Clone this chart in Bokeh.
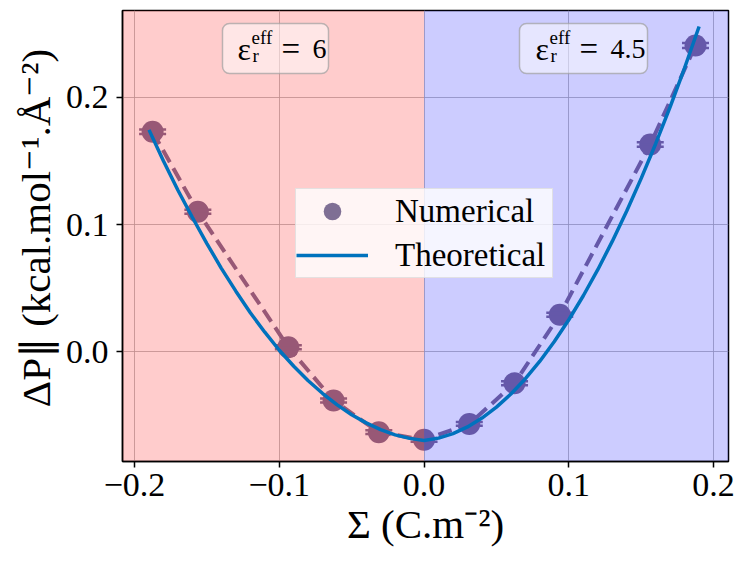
from bokeh.plotting import figure
from bokeh.models import FixedTicker, Legend, LegendItem, BoxAnnotation, Label
from bokeh.embed import file_html
from bokeh.resources import INLINE

# ---- data ----
sigma_num = [-0.1875, -0.15625, -0.09375, -0.0625, -0.03125, 0.0,
             0.03125, 0.0625, 0.09375, 0.15625, 0.1875]
dp_num = [0.173, 0.110, 0.0034, -0.0386, -0.0635, -0.0695,
          -0.0570, -0.0250, 0.0289, 0.163, 0.241]
dp_err = [0.0018, 0.0016, 0.0016, 0.0016, 0.0015, 0.0015,
          0.0015, 0.0016, 0.0016, 0.0018, 0.0020]

sigma_th = [-0.19, -0.18, -0.17, -0.16, -0.15, -0.14, -0.13, -0.12, -0.11, -0.10,
            -0.09, -0.08, -0.07, -0.06, -0.05, -0.04, -0.03, -0.02, -0.01, 0.0,
            0.01, 0.02, 0.03, 0.04, 0.05, 0.06, 0.07, 0.08, 0.09, 0.10,
            0.11, 0.12, 0.13, 0.14, 0.15, 0.16, 0.17, 0.18, 0.19]
dp_th = [0.1745, 0.1500, 0.1270, 0.1055, 0.0850, 0.0655, 0.0475, 0.0305, 0.0152, 0.0010,
         -0.0116, -0.0230, -0.0331, -0.0420, -0.0498, -0.0562, -0.0615, -0.0656, -0.0684, -0.0700,
         -0.0682, -0.0646, -0.0594, -0.0524, -0.0438, -0.0334, -0.0214, -0.0076, 0.0079, 0.0250,
         0.0439, 0.0644, 0.0867, 0.1106, 0.1363, 0.1636, 0.1927, 0.2234, 0.2559]

x_ticks = [-0.2, -0.1, 0.0, 0.1, 0.2]
x_tick_labels = ["\u22120.2", "\u22120.1", "0.0", "0.1", "0.2"]
y_ticks = [0.0, 0.1, 0.2]
y_tick_labels = ["0.0", "0.1", "0.2"]

x_lo, x_hi = -0.2083, 0.2103
y_lo, y_hi = -0.0866, 0.2685

FONT = "Liberation Serif"
NUM_COLOR = "#7f6f94"
TH_COLOR = "#0072BD"

BL, BR, BT, BB = 122, 12, 10, 97
W, H = 740, 558
FW, FH = W - BL - BR, H - BT - BB

p = figure(width=W, height=H, x_range=(x_lo, x_hi), y_range=(y_lo, y_hi),
           output_backend="svg", toolbar_location=None,
           min_border_left=BL, min_border_right=BR, min_border_top=BT, min_border_bottom=BB)

p.background_fill_color = "white"
p.outline_line_color = "black"
p.outline_line_width = 1.5

for ax in (p.xaxis, p.yaxis):
    ax.axis_line_width = 1.5
    ax.axis_line_color = "black"
    ax.major_tick_out = 6
    ax.major_tick_in = 0
    ax.major_tick_line_width = 1.5
    ax.major_tick_line_color = "black"
    ax.minor_tick_line_color = None
    ax.major_label_text_font = FONT
    ax.major_label_text_font_size = "34px"
    ax.major_label_text_color = "black"
    ax.axis_label_text_font = FONT
    ax.axis_label_text_font_size = "41px"
    ax.axis_label_text_font_style = "normal"
    ax.axis_label_text_color = "black"

p.xaxis.ticker = FixedTicker(ticks=x_ticks)
p.xaxis.major_label_overrides = dict(zip(x_ticks, x_tick_labels))
p.yaxis.ticker = FixedTicker(ticks=y_ticks)
p.yaxis.major_label_overrides = dict(zip(y_ticks, y_tick_labels))
p.xaxis.axis_label = "\u03a3 (C.m\u207b\u00b2)"
p.yaxis.axis_label = "\u0394P\u2225 (kcal.mol\u207b\u00b9.\u00c5\u207b\u00b2)"
p.xaxis.major_label_standoff = 6
p.yaxis.major_label_standoff = 8
p.xaxis.axis_label_standoff = 2
p.yaxis.axis_label_standoff = 4

p.xgrid.grid_line_color = "#b0b0b0"
p.ygrid.grid_line_color = "#b0b0b0"
p.xgrid.grid_line_alpha = 0.8
p.ygrid.grid_line_alpha = 0.8

# numerical data (dashed line, error caps, markers)
p.line(sigma_num, dp_num, line_color=NUM_COLOR, line_width=4, line_dash="14 7")
err_hi = [v + e for v, e in zip(dp_num, dp_err)]
err_lo = [v - e for v, e in zip(dp_num, dp_err)]
p.segment(x0=sigma_num, y0=err_lo, x1=sigma_num, y1=err_hi, line_color=NUM_COLOR, line_width=2.5)
r_num = p.scatter(sigma_num, dp_num, size=22, fill_color=NUM_COLOR, line_color=None)
p.scatter(sigma_num, err_hi, marker="dash", size=27, line_color=NUM_COLOR, line_width=2.5)
p.scatter(sigma_num, err_lo, marker="dash", size=27, line_color=NUM_COLOR, line_width=2.5)

# shaded regions (drawn over numerical data, as in the reference)
p.quad(left=[x_lo], right=[0.0], bottom=[y_lo], top=[y_hi],
       fill_color="red", fill_alpha=0.2, line_color=None)
p.quad(left=[0.0], right=[x_hi], bottom=[y_lo], top=[y_hi],
       fill_color="blue", fill_alpha=0.2, line_color=None)

# theoretical curve
r_th = p.line(sigma_th, dp_th, line_color=TH_COLOR, line_width=3.5)

# ---- annotation placement helpers (pixel position inside the frame -> data) ----
def ax_x(px):
    return x_lo + (px - BL) / FW * (x_hi - x_lo)

def ax_y(py):
    return y_hi - (py - BT) / FH * (y_hi - y_lo)

for (l, r) in [(222, 328), (519, 647)]:
    p.add_layout(BoxAnnotation(left=ax_x(l), right=ax_x(r), bottom=ax_y(73), top=ax_y(23),
                               fill_color="white", fill_alpha=0.5,
                               line_color="#a0a0a0", line_alpha=0.7, line_width=1.5,
                               border_radius=7))

DX, DY = 7, -10   # empirical correction of label placement

def put(text, px, py, size):
    p.add_layout(Label(x=ax_x(px + DX), y=ax_y(py + DY), text=text, text_font=FONT,
                       text_font_size=size, text_baseline="alphabetic", text_color="black"))

def eps_label(x0, rhs, x_rhs):
    put("\u03b5", x0, 58, "32px")
    put("eff", x0 + 14, 47, "19px")
    put("r", x0 + 15, 65, "19px")
    put("=", x0 + 44, 58, "33px")
    put(rhs, x_rhs, 58, "28px")

eps_label(230, "6", 305)
eps_label(528, "4.5", 603)

legend = Legend(items=[LegendItem(label="Numerical", renderers=[r_num]),
                       LegendItem(label="Theoretical", renderers=[r_th])],
                location=(173, 183))
legend.label_text_font = FONT
legend.label_text_font_size = "33px"
legend.label_text_color = "black"
legend.glyph_width = 72
legend.glyph_height = 44
legend.label_height = 44
legend.label_width = 157
legend.label_standoff = 27
legend.spacing = 0
legend.padding = 0
legend.margin = 0
legend.background_fill_color = "white"
legend.background_fill_alpha = 0.8
legend.border_line_color = "#cccccc"
legend.border_line_width = 1
p.add_layout(legend, "center")

open("out.html", "w").write(file_html(p, INLINE))
